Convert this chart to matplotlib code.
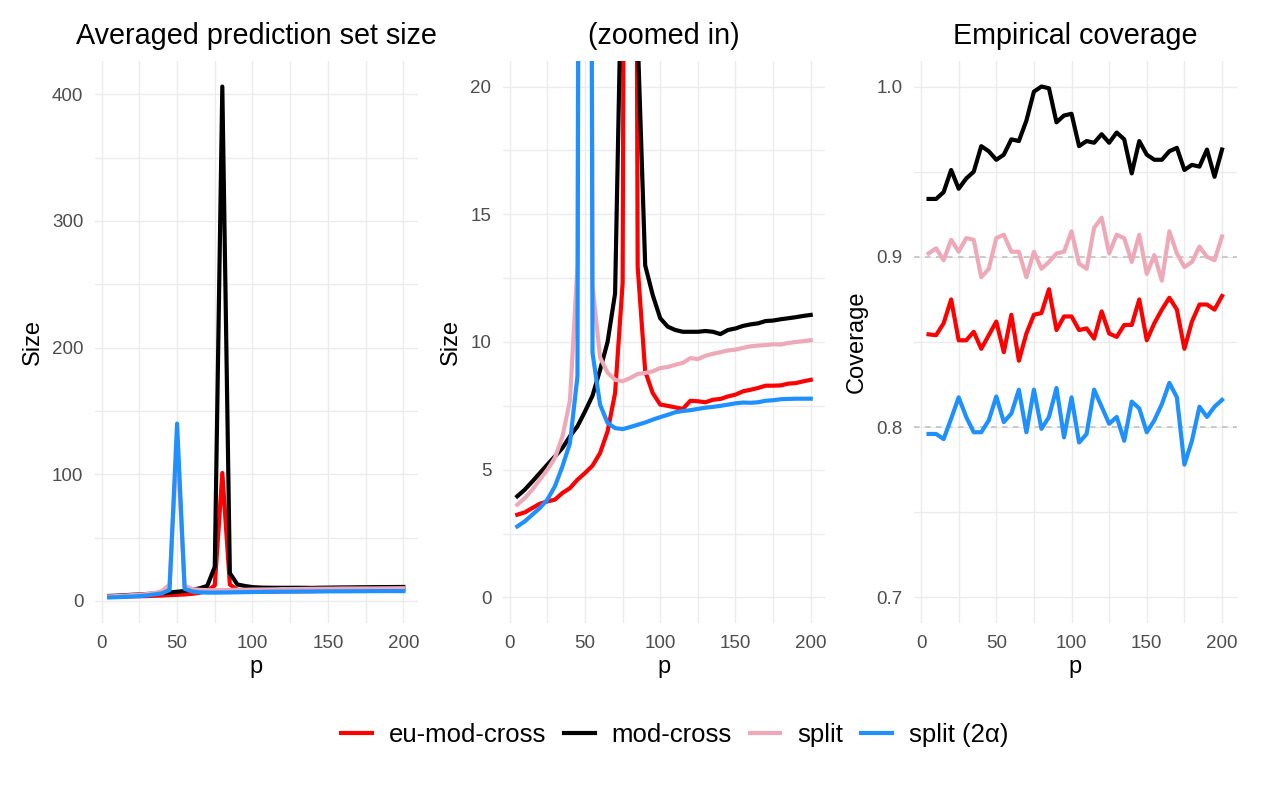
import matplotlib
matplotlib.use("Agg")
import matplotlib.pyplot as plt
from matplotlib.lines import Line2D

plt.rcParams['font.family'] = ['Liberation Sans', 'DejaVu Sans']

# ---------------- data ----------------
p = [5, 10, 15, 20, 25, 30, 35, 40, 45, 50, 55, 60, 65, 70, 75, 80, 85, 90, 95, 100,
     105, 110, 115, 120, 125, 130, 135, 140, 145, 150, 155, 160, 165, 170, 175, 180,
     185, 190, 195, 200]

methods = ["eu-mod-cross", "mod-cross", "split", "split (2\u03b1)"]
colors = ["#FF0000", "#000000", "#EEA9B8", "#1E90FF"]

size_eu_mod_cross = [3.24, 3.33, 3.50, 3.67, 3.76, 3.83, 4.09, 4.28, 4.61, 4.87,
                     5.16, 5.65, 6.50, 8.00, 12.3, 101.0, 12.95, 8.85, 8.00, 7.55,
                     7.50, 7.44, 7.38, 7.70, 7.68, 7.64, 7.74, 7.77, 7.87, 7.94,
                     8.07, 8.13, 8.20, 8.29, 8.29, 8.30, 8.37, 8.39, 8.46, 8.52]
size_mod_cross = [3.96, 4.22, 4.54, 4.87, 5.20, 5.52, 5.85, 6.31, 6.70, 7.28,
                  7.90, 8.90, 10.0, 11.9, 27.0, 406.0, 22.0, 13.0, 11.84, 10.93,
                  10.60, 10.47, 10.40, 10.40, 10.40, 10.43, 10.40, 10.31, 10.47, 10.53,
                  10.63, 10.69, 10.73, 10.82, 10.84, 10.89, 10.93, 10.97, 11.02, 11.06]
size_split = [3.63, 3.89, 4.22, 4.61, 5.00, 5.46, 6.30, 7.70, 13.0, 125.0,
              12.2, 9.40, 8.80, 8.52, 8.46, 8.59, 8.75, 8.79, 8.85, 8.98,
              9.02, 9.11, 9.18, 9.37, 9.33, 9.46, 9.54, 9.60, 9.67, 9.70,
              9.77, 9.83, 9.86, 9.88, 9.91, 9.90, 9.96, 10.00, 10.03, 10.07]
size_split2a = [2.78, 2.98, 3.24, 3.50, 3.83, 4.35, 5.13, 6.04, 8.66, 140.0,
                9.57, 7.55, 6.83, 6.63, 6.59, 6.67, 6.76, 6.85, 6.96, 7.06,
                7.15, 7.25, 7.30, 7.33, 7.38, 7.43, 7.46, 7.50, 7.55, 7.60,
                7.63, 7.62, 7.64, 7.70, 7.72, 7.76, 7.77, 7.78, 7.78, 7.78]

cov_eu_mod_cross = [0.8545, 0.854, 0.861, 0.875, 0.851, 0.851, 0.856, 0.846, 0.854, 0.862,
                    0.844, 0.866, 0.839, 0.855, 0.866, 0.867, 0.881, 0.857, 0.865, 0.865,
                    0.857, 0.858, 0.852, 0.868, 0.855, 0.853, 0.860, 0.860, 0.875, 0.851,
                    0.861, 0.869, 0.876, 0.869, 0.846, 0.862, 0.872, 0.872, 0.869, 0.877]
cov_mod_cross = [0.934, 0.934, 0.938, 0.951, 0.940, 0.946, 0.950, 0.965, 0.962, 0.957,
                 0.960, 0.969, 0.968, 0.980, 0.997, 1.000, 0.999, 0.979, 0.983, 0.984,
                 0.965, 0.968, 0.967, 0.972, 0.967, 0.973, 0.969, 0.949, 0.968, 0.960,
                 0.957, 0.957, 0.962, 0.964, 0.951, 0.954, 0.953, 0.963, 0.947, 0.963]
cov_split = [0.902, 0.905, 0.898, 0.910, 0.903, 0.911, 0.910, 0.888, 0.893, 0.911,
             0.913, 0.903, 0.903, 0.888, 0.903, 0.893, 0.897, 0.902, 0.903, 0.915,
             0.896, 0.893, 0.917, 0.923, 0.902, 0.913, 0.911, 0.897, 0.913, 0.890,
             0.901, 0.886, 0.915, 0.902, 0.894, 0.897, 0.906, 0.900, 0.898, 0.912]
cov_split2a = [0.796, 0.796, 0.793, 0.805, 0.8175, 0.806, 0.797, 0.797, 0.804, 0.818,
               0.803, 0.808, 0.822, 0.797, 0.822, 0.799, 0.806, 0.823, 0.794, 0.8175,
               0.791, 0.796, 0.822, 0.812, 0.802, 0.806, 0.792, 0.815, 0.811, 0.797,
               0.804, 0.8135, 0.826, 0.8175, 0.778, 0.792, 0.812, 0.806, 0.812, 0.816]

targets = [0.9, 0.8]

panel_titles = ["Averaged prediction set size", "(zoomed in)", "Empirical coverage"]
x_ticks = [0, 50, 100, 150, 200]
x_minor = [25, 75, 125, 175]

sizes = [size_eu_mod_cross, size_mod_cross, size_split, size_split2a]
covs = [cov_eu_mod_cross, cov_mod_cross, cov_split, cov_split2a]

# ---------------- figure ----------------
W, H = 1262, 789
fig = plt.figure(figsize=(W / 100, H / 100), dpi=100)

def rect(x0, x1, y0, y1):
    return [x0 / W, 1 - y1 / H, (x1 - x0) / W, (y1 - y0) / H]

ax1 = fig.add_axes(rect(94.5, 418, 61, 623))
ax2 = fig.add_axes(rect(502.6, 825.4, 61, 623))
ax3 = fig.add_axes(rect(913.9, 1236.7, 61, 623))

grid_col = "#EBEBEB"
lw = 3.0

def style(ax, yt, ym, title, ylabel):
    for s in ax.spines.values():
        s.set_visible(False)
    ax.set_xticks(x_ticks)
    ax.set_xticks(x_minor, minor=True)
    ax.set_yticks(yt)
    ax.set_yticks(ym, minor=True)
    ax.grid(True, which="both", color=grid_col, linewidth=1.0, zorder=0)
    ax.set_axisbelow(True)
    ax.tick_params(which="both", length=0, labelsize=13.5, labelcolor="#4D4D4D")
    ax.tick_params(axis="y", pad=8)
    ax.tick_params(axis="x", pad=8.5)
    ax.set_xlim(-4.75, 209.75)
    ax.set_title(title, fontsize=20.7, pad=12.5)
    ax.set_xlabel("p", fontsize=17, labelpad=3)
    ax.set_ylabel(ylabel, fontsize=17, labelpad=6)

# left panel
for vals, c in zip(sizes, colors):
    ax1.plot(p, vals, color=c, linewidth=lw, solid_joinstyle="round", zorder=3)
allv = [v for s in sizes for v in s]
lo, hi = min(allv), max(allv)
pad = 0.05 * (hi - lo)
ax1.set_ylim(lo - pad, hi + pad)
style(ax1, [0, 100, 200, 300, 400], [50, 150, 250, 350], panel_titles[0], "Size")

# middle panel
for vals, c in zip(sizes, colors):
    ax2.plot(p, vals, color=c, linewidth=lw, solid_joinstyle="round", zorder=3)
ax2.set_ylim(-1, 21)
style(ax2, [0, 5, 10, 15, 20], [2.5, 7.5, 12.5, 17.5], panel_titles[1], "Size")

# right panel
for t in targets:
    ax3.axhline(t, color="#BEBEBE", linewidth=1.1, linestyle=(0, (3.6, 3.6)), zorder=2)
for vals, c in zip(covs, colors):
    ax3.plot(p, vals, color=c, linewidth=lw, solid_joinstyle="round", zorder=3)
ax3.set_ylim(0.685, 1.015)
style(ax3, [0.7, 0.8, 0.9, 1.0], [0.75, 0.85, 0.95], panel_titles[2], "Coverage")
ax3.set_yticklabels(["0.7", "0.8", "0.9", "1.0"])

handles = [Line2D([], [], color=c, linewidth=lw) for c in colors]
fig.legend(handles, methods, loc="center", bbox_to_anchor=(674.5 / W, 1 - 735 / H),
           ncol=4, frameon=False, fontsize=18.5, handlelength=1.2,
           handletextpad=0.65, columnspacing=0.7)

fig.savefig("out.png", dpi=100)
